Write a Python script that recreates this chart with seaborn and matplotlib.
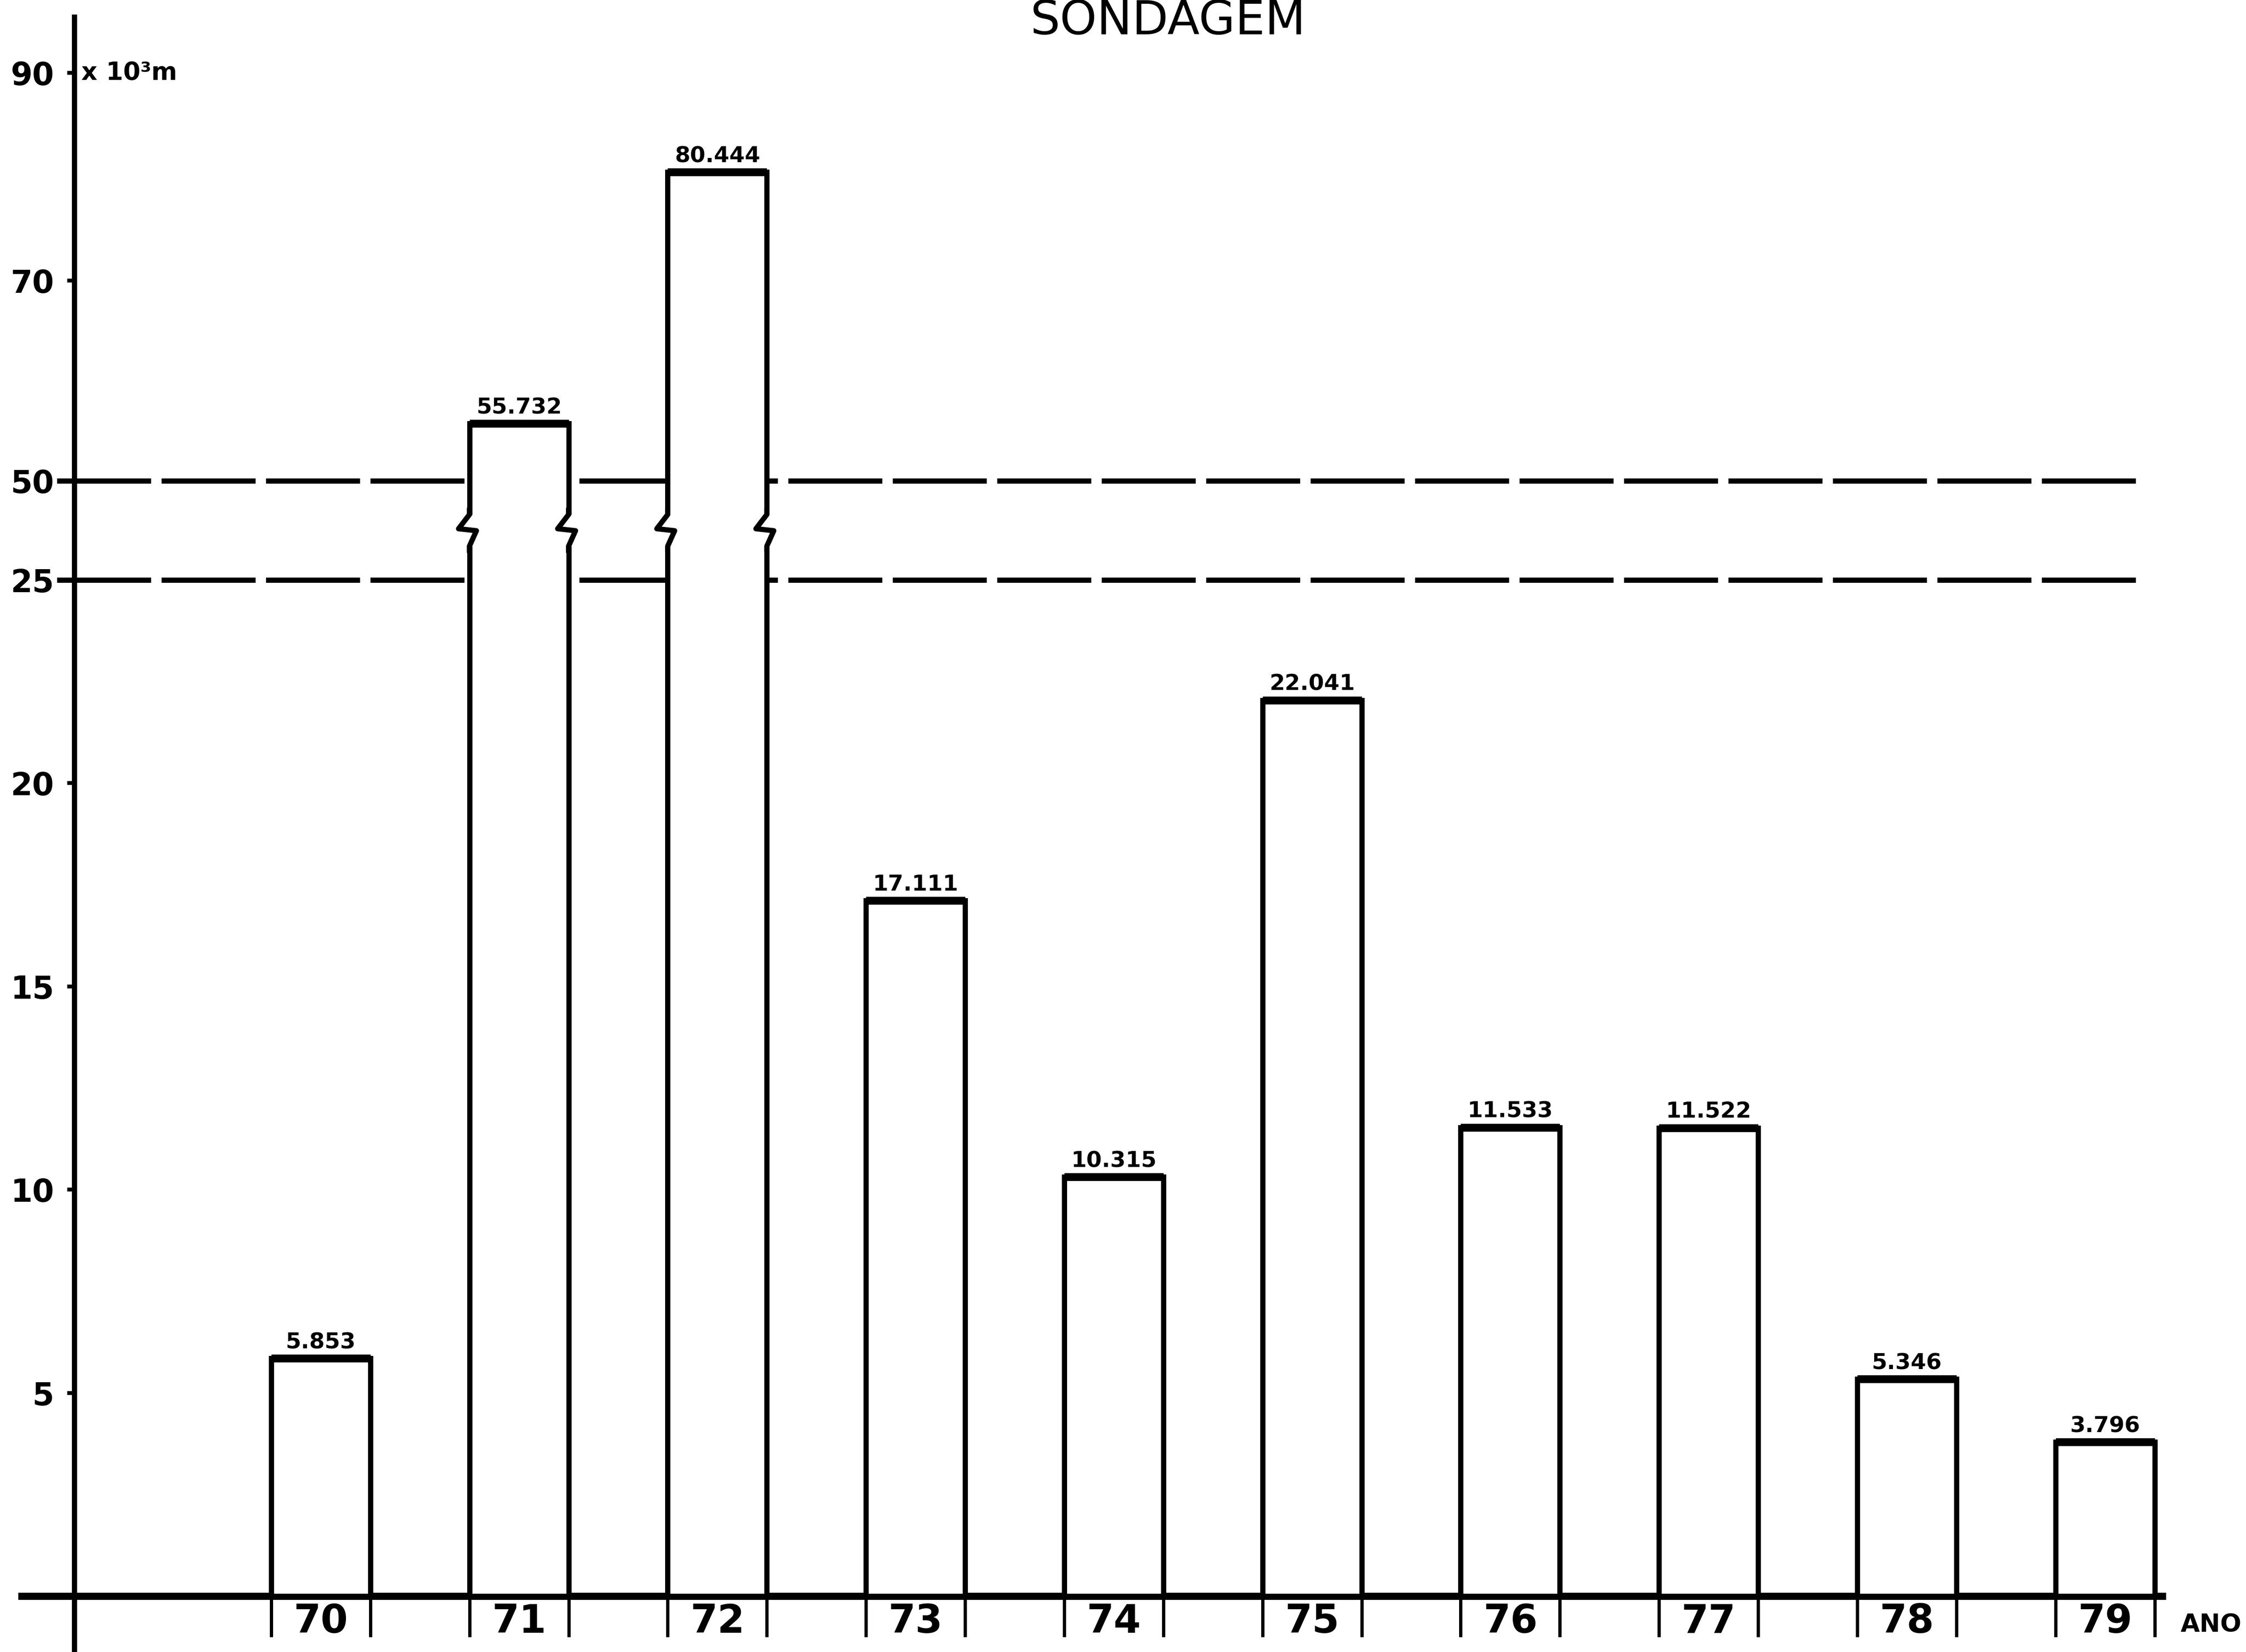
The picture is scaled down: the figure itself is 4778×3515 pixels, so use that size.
import numpy as np
import pandas as pd
import matplotlib
matplotlib.use("Agg")
import matplotlib.pyplot as plt
import seaborn as sns

sns.set_style("white")
plt.rcParams['font.family'] = ['DejaVu Sans']
plt.rcParams['text.color'] = 'black'
plt.rcParams['xtick.color'] = 'black'
plt.rcParams['ytick.color'] = 'black'

# dados (x 10^3 m)
anos = ['70', '71', '72', '73', '74', '75', '76', '77', '78', '79']
metros = [5.853, 55.732, 80.444, 17.111, 10.315, 22.041, 11.533, 11.522, 5.346, 3.796]
rotulos = ['5.853', '55.732', '80.444', '17.111', '10.315', '22.041',
           '11.533', '11.522', '5.346', '3.796']
y_ticks = [5, 10, 15, 20, 25, 50, 70, 90]
linhas_corte = [50, 25]
barras_quebradas = ['71', '72']

# eixo quebrado: linear ate 25, comprimido acima
esc_dados = [-100, 0, 25, 50, 70, 90, 200]
esc_tela = [-100, 0, 25, 27.43, 32.36, 37.46, 65.5]

def fwd(v):
    return np.interp(v, esc_dados, esc_tela)

def inv(v):
    return np.interp(v, esc_tela, esc_dados)

df = pd.DataFrame({'ano': anos, 'metros': metros})

fig = plt.figure(figsize=(47.78, 35.15), dpi=100)
ax = fig.add_axes([0, 0, 1, 1])

sns.barplot(data=df, x='ano', y='metros', color='white', edgecolor='black',
            linewidth=8, width=0.5, errorbar=None, ax=ax, zorder=3)

ax.set_yscale('function', functions=(fwd, inv))
ax.set_xlim(-1.618, 9.711)
ax.set_ylim(-1.37, 97.05)

pos = np.arange(len(anos))

# linhas tracejadas de referencia
for y in linhas_corte:
    ax.plot([-1.33, 9.2], [y, y], color='black', lw=8,
            linestyle=(0, (18, 2)), zorder=2)

# topo das barras mais grosso
ax.hlines(metros, pos - 0.25, pos + 0.25, color='black', lw=12, zorder=4)

# marcas de quebra nas barras altas
for ano in barras_quebradas:
    i = anos.index(ano)
    for xe in (i - 0.25, i + 0.25):
        ax.plot([xe, xe], [33.5, 41.5], color='white', lw=14, zorder=4,
                solid_capstyle='butt')
        ax.plot([xe, xe, xe - 0.055, xe + 0.035, xe, xe],
                [43, 41.5, 37.9, 37.4, 33.5, 32], color='black', lw=8, zorder=5)

# tracos verticais abaixo da base
bordas = np.concatenate([pos - 0.25, pos + 0.25])
ax.vlines(bordas, -1.0, 0, color='black', lw=5, zorder=3)

# rotulos de valor
for i, r in enumerate(rotulos):
    ax.annotate(r, (i, metros[i]), xytext=(0, 15), textcoords='offset points',
                ha='center', va='baseline', fontsize=34, fontweight='bold')

# eixos
ax.spines['top'].set_visible(False)
ax.spines['right'].set_visible(False)
ax.spines['left'].set_position(('data', -1.243))
ax.spines['left'].set_bounds(-1.3, 95.4)
ax.spines['left'].set_linewidth(8)
ax.spines['left'].set_color('black')
ax.spines['bottom'].set_position(('data', 0))
ax.spines['bottom'].set_bounds(-1.51, 9.29)
ax.spines['bottom'].set_linewidth(11)
ax.spines['bottom'].set_color('black')

ax.set_yticks(y_ticks)
ax.set_yticklabels([str(t) for t in y_ticks], fontweight='bold')
ax.tick_params(axis='y', left=True, length=11, width=6, pad=20, labelsize=48,
               direction='out')
ax.set_xticks(pos)
ax.set_xticklabels(anos, fontweight='bold')
ax.tick_params(axis='x', length=0, pad=10, labelsize=60)
ax.set_xlabel('')
ax.set_ylabel('')

ax.text(-1.207, 90, 'x 10³m', fontsize=38, fontweight='bold', ha='left', va='center')
ax.text(9.38, -0.7, 'ANO', fontsize=38, fontweight='bold', ha='left', va='center')
fig.text(0.52, 1 - 24 / 1154, 'SONDAGEM', fontsize=72, ha='center', va='baseline')

fig.savefig('out.png', dpi=100)
